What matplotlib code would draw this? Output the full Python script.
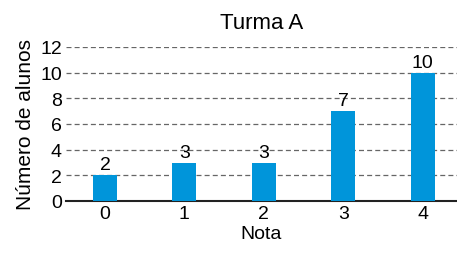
import matplotlib
matplotlib.use('Agg')
import matplotlib.pyplot as plt

# Data
notas = [0, 1, 2, 3, 4]
alunos = [2, 3, 3, 7, 10]
yticks = [0, 2, 4, 6, 8, 10, 12]

plt.rcParams['font.family'] = ['Liberation Sans', 'DejaVu Sans']

fig = plt.figure(figsize=(4.57, 2.55), dpi=100)
ax = fig.add_axes([66/457, 1 - 202/255, 391/457, 154/255])

ax.bar(notas, alunos, width=0.3, color='#0095DA', zorder=3)
for x, v in zip(notas, alunos):
    ax.text(x, v + 0.15, str(v), ha='center', va='bottom', fontsize=14, zorder=4)

ax.set_xlim(-0.49, 4.43)
ax.set_ylim(0, 12)
ax.set_yticks(yticks)
ax.set_xticks(notas)
ax.tick_params(axis='both', length=0, labelsize=14, pad=3)
ax.yaxis.grid(True, linestyle=(0, (4, 2.5)), color='#666666', linewidth=0.9, zorder=0)

for s in ['top', 'right', 'left']:
    ax.spines[s].set_visible(False)
ax.spines['bottom'].set_linewidth(1.5)
ax.spines['bottom'].set_color('#222222')

ax.set_xlabel('Nota', fontsize=14, labelpad=2)
ax.set_ylabel('Número de alunos', fontsize=15, labelpad=4)
ax.set_title('Turma A', fontsize=16, pad=14)

fig.savefig('out.png', dpi=100)
